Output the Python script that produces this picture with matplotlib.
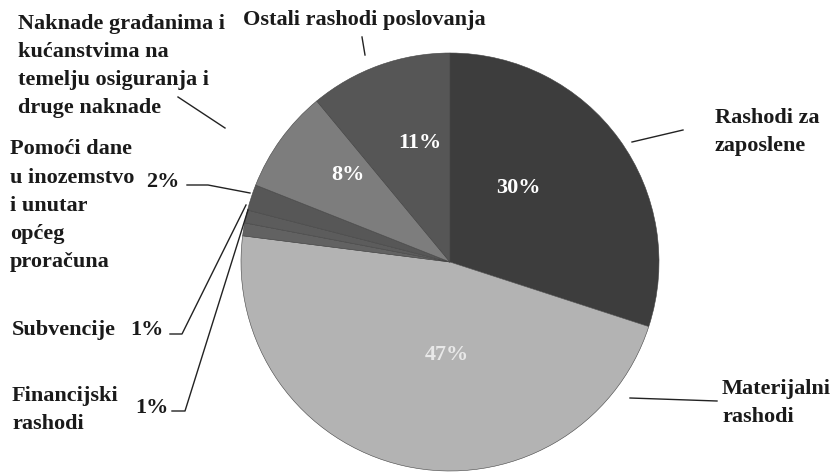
import matplotlib.pyplot as plt

# rashodi po vrstama, u postocima
labels = ['Rashodi za zaposlene', 'Materijalni rashodi', 'Financijski rashodi',
          'Subvencije', 'Pomoći dane u inozemstvo i unutar općeg proračuna',
          'Naknade građanima i kućanstvima na temelju osiguranja i druge naknade',
          'Ostali rashodi poslovanja']
shares = [30, 47, 1, 1, 2, 8, 11]
colors = ['#3d3d3d', '#b3b3b3', '#626262', '#5c5c5c', '#575757', '#7d7d7d', '#565656']

plt.rcParams['font.family'] = ['Liberation Serif', 'DejaVu Serif']
plt.rcParams['font.weight'] = 'bold'

fig = plt.figure(figsize=(8.38, 4.72), dpi=100)
ax = fig.add_axes([0, 0, 1, 1])

H = 472  # picture rows measured from top


def pct(p):
    return '%d%%' % round(p) if p > 5 else ''


wedges, texts, autotexts = ax.pie(shares, colors=colors, startangle=90, counterclock=False,
                                  center=(450, H - 262), radius=209, frame=True,
                                  autopct=pct, pctdistance=0.58,
                                  wedgeprops=dict(linewidth=0.4, edgecolor='#444444'),
                                  textprops=dict(color='white', fontsize=16, fontweight='bold'))
autotexts[1].set_color('#e8e8e8')
# nudge percentage labels to where the original has them
pct_pos = {0: (518, 188), 1: (447, 355), 5: (348, 175), 6: (420, 143)}
for i, (px, py) in pct_pos.items():
    autotexts[i].set_position((px, H - py))

ax.set_xlim(0, 838)
ax.set_ylim(0, 472)
ax.axis('off')

fs = 16
txt = dict(fontsize=fs, fontweight='bold', color='#1a1a1a', linespacing=1.55)
line = dict(color='#222222', lw=1.0)

# Ostali rashodi poslovanja
ax.text(243, H - 20, 'Ostali rashodi poslovanja', va='center', ha='left', **txt)
ax.plot([362, 365], [H - 37, H - 55], **line)

# Naknade
ax.text(18, H - 66, 'Naknade građanima i\nkućanstvima na\ntemelju osiguranja i\ndruge naknade',
        va='center', ha='left', **txt)
ax.plot([178, 225], [H - 97, H - 128], **line)

# Rashodi za zaposlene
ax.text(715, H - 132, 'Rashodi za\nzaposlene', va='center', ha='left', **txt)
ax.plot([632, 683], [H - 142, H - 130], **line)

# Materijalni rashodi
ax.text(722, H - 403, 'Materijalni\nrashodi', va='center', ha='left', **txt)
ax.plot([630, 717], [H - 398, H - 401], **line)

# Pomoći
ax.text(10, H - 206, 'Pomoći dane\nu inozemstvo\ni unutar\nopćeg\nproračuna',
        va='center', ha='left', **txt)
ax.text(146, H - 182, '2%', va='center', ha='left', **txt)
ax.plot([187, 208, 250], [H - 185, H - 185, H - 193], **line)

# Subvencije
ax.text(12, H - 330, 'Subvencije', va='center', ha='left', **txt)
ax.text(130, H - 330, '1%', va='center', ha='left', **txt)
ax.plot([170, 182, 246], [H - 334, H - 334, H - 205], **line)

# Financijski rashodi
ax.text(12, H - 410, 'Financijski\nrashodi', va='center', ha='left', **txt)
ax.text(135, H - 408, '1%', va='center', ha='left', **txt)
ax.plot([172, 185, 248], [H - 411, H - 411, H - 210], **line)

fig.savefig('out.png', dpi=100, facecolor='white')
